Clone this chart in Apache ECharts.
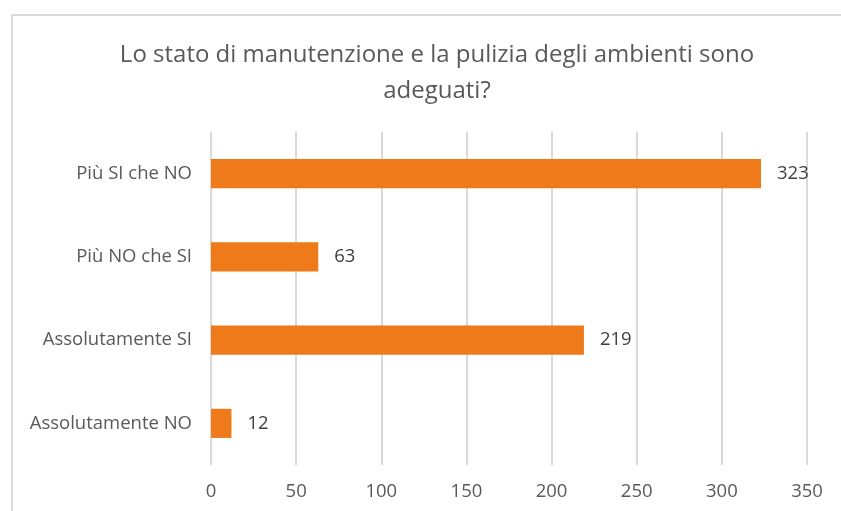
<!DOCTYPE html>
<html>
<head>
<meta charset="utf-8">
<script src="https://cdn.jsdelivr.net/npm/echarts@6/dist/echarts.min.js"></script>
<style>
  html, body { margin: 0; padding: 0; background: #fff; overflow: hidden; }
  #frame { position: absolute; left: 11px; top: 14px; width: 900px; height: 600px; border: 2px solid #d9d9d9; box-sizing: border-box; }
  #chart { position: absolute; left: 0; top: 0; width: 841px; height: 511px; }
</style>
</head>
<body>
<div id="frame"></div>
<div id="chart"></div>
<script>
var categories = ['Assolutamente NO', 'Assolutamente SI', 'Più NO che SI', 'Più SI che NO'];
var values = [12, 219, 63, 323];
var xTicks = { min: 0, max: 350, interval: 50 };

var myChart = echarts.init(document.getElementById('chart'));
var option = {
    animation: false,
    textStyle: { fontFamily: 'Open Sans' },
    title: {
        left: 432,
        textAlign: 'center',
        top: 32,
        text: 'Lo stato di manutenzione e la pulizia degli ambienti sono\nadeguati?',
        textStyle: { color: '#595959', fontSize: 24, fontWeight: 'normal', lineHeight: 36, fontFamily: 'Open Sans' }
    },
    grid: { left: 211, right: 34, top: 132, bottom: 46 },
    xAxis: {
        type: 'value',
        min: xTicks.min,
        max: xTicks.max,
        interval: xTicks.interval,
        axisLine: { show: false },
        axisTick: { show: false },
        splitLine: { lineStyle: { color: '#d9d9d9', width: 2 } },
        axisLabel: { color: '#595959', fontSize: 18.5, margin: 17 }
    },
    yAxis: {
        type: 'category',
        data: categories,
        axisLine: { show: false },
        axisTick: { show: false },
        axisLabel: { color: '#595959', fontSize: 18.5, margin: 19 }
    },
    series: [{
        type: 'bar',
        data: values,
        barWidth: '35%',
        itemStyle: { color: '#EE7A19' },
        label: { show: true, position: 'right', distance: 16, color: '#404040', fontSize: 18.5 }
    }]
};
myChart.setOption(option);
</script>
</body>
</html>
